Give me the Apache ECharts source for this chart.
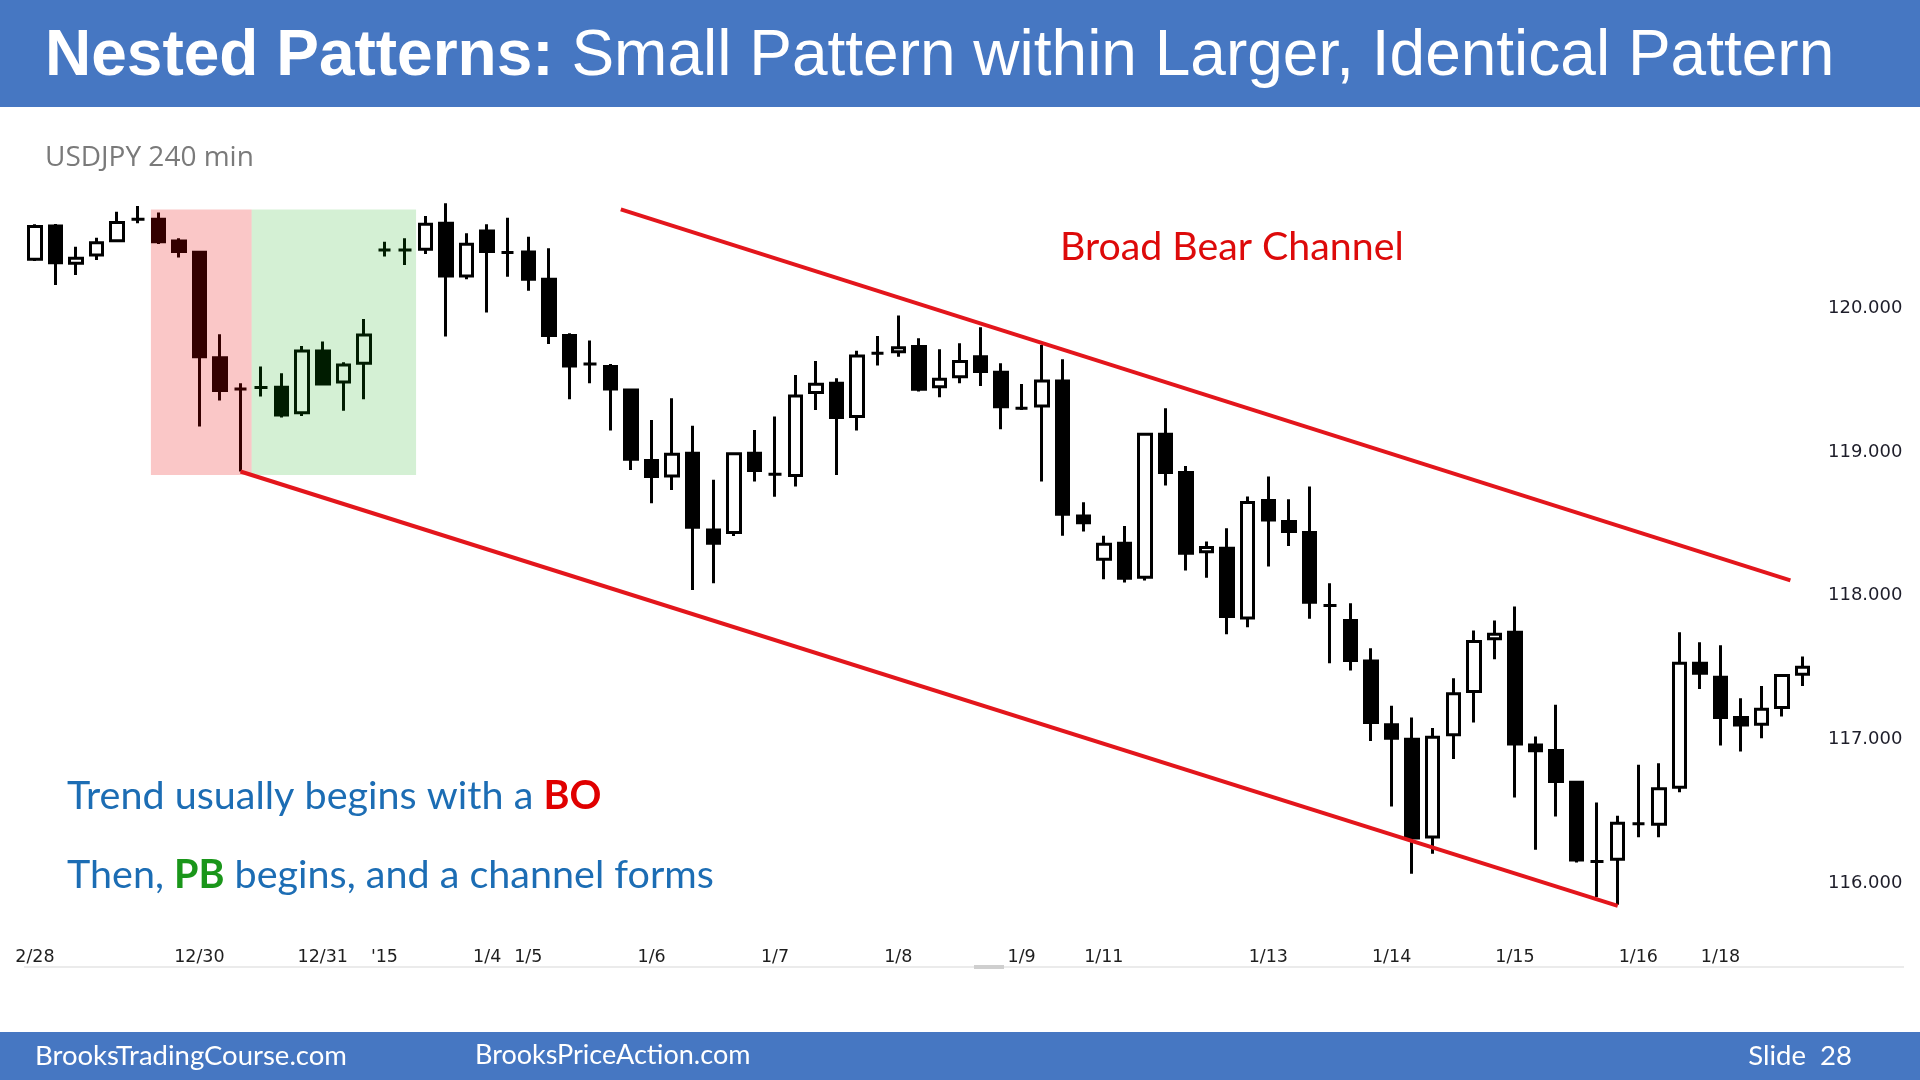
<!DOCTYPE html>
<html>
<head>
<meta charset="utf-8">
<title>Nested Patterns</title>
<script src="https://cdn.jsdelivr.net/npm/echarts@6/dist/echarts.min.js"></script>
<style>
  html, body { margin: 0; padding: 0; background: #fff; }
  #chart { width: 1920px; height: 1080px; }
</style>
</head>
<body>
<div id="chart"></div>
<script>
// USDJPY 240 min bars, 12/28 .. 1/18
const opens = [
  120.343, 120.575, 120.315, 120.373, 120.473, 120.622, 120.622, 120.471, 120.392, 119.658,
  119.440, 119.450, 119.452, 119.275, 119.705, 119.489, 119.619, 120.408, 120.408, 120.413,
  120.594, 120.227, 120.540, 120.390, 120.394, 120.204, 119.812, 119.614, 119.596, 119.433,
  118.941, 118.834, 118.992, 118.458, 118.440, 118.992, 118.846, 118.837, 119.415, 119.480,
  119.248, 119.689, 119.700, 119.735, 119.456, 119.526, 119.665, 119.556, 119.306, 119.322,
  119.496, 118.556, 118.254, 118.366, 118.129, 119.125, 118.858, 118.307, 118.331, 117.844,
  118.663, 118.517, 118.440, 117.932, 117.827, 117.546, 117.101, 117.001, 116.319, 117.031,
  117.333, 117.700, 117.746, 116.961, 116.922, 116.701, 116.149, 116.165, 116.411, 116.409,
  116.666, 117.530, 117.432, 117.151, 117.105, 117.221, 117.453
];
const highs = [
  120.587, 120.589, 120.431, 120.494, 120.675, 120.715, 120.670, 120.489, 120.392, 119.821,
  119.480, 119.596, 119.549, 119.740, 119.770, 119.626, 119.928, 120.466, 120.489, 120.645,
  120.733, 120.524, 120.587, 120.633, 120.501, 120.420, 119.828, 119.777, 119.614, 119.433,
  119.224, 119.375, 119.183, 118.807, 118.988, 119.155, 119.248, 119.538, 119.635, 119.515,
  119.707, 119.809, 119.951, 119.793, 119.716, 119.758, 119.870, 119.619, 119.475, 119.747,
  119.647, 118.651, 118.417, 118.486, 119.132, 119.306, 118.904, 118.377, 118.470, 118.691,
  118.830, 118.672, 118.761, 118.087, 117.948, 117.635, 117.233, 117.152, 117.078, 117.426,
  117.758, 117.827, 117.925, 117.020, 117.240, 116.701, 116.559, 116.467, 116.822, 116.833,
  117.746, 117.676, 117.655, 117.286, 117.372, 117.444, 117.576
];
const lows = [
  120.332, 120.164, 120.234, 120.339, 120.466, 120.594, 120.450, 120.355, 119.178, 119.359,
  118.865, 119.387, 119.241, 119.252, 119.475, 119.289, 119.368, 120.362, 120.304, 120.380,
  119.805, 120.204, 119.972, 120.222, 120.125, 119.754, 119.368, 119.480, 119.150, 118.876,
  118.644, 118.737, 118.040, 118.087, 118.416, 118.795, 118.690, 118.760, 119.294, 118.841,
  119.150, 119.603, 119.665, 119.422, 119.382, 119.480, 119.461, 119.159, 119.294, 118.795,
  118.417, 118.447, 118.115, 118.092, 118.106, 118.767, 118.175, 118.126, 117.732, 117.781,
  118.203, 118.347, 117.839, 117.530, 117.479, 116.989, 116.532, 116.063, 116.202, 116.862,
  117.117, 117.558, 116.595, 116.230, 116.462, 116.142, 115.900, 115.847, 116.318, 116.318,
  116.631, 117.351, 116.956, 116.915, 117.007, 117.158, 117.372
];
const closes = [
  120.571, 120.320, 120.350, 120.459, 120.599, 120.622, 120.466, 120.397, 119.665, 119.429,
  119.440, 119.450, 119.259, 119.705, 119.475, 119.607, 119.816, 120.408, 120.408, 120.587,
  120.227, 120.448, 120.397, 120.390, 120.204, 119.812, 119.600, 119.614, 119.440, 118.950,
  118.830, 118.985, 118.477, 118.365, 118.988, 118.872, 118.846, 119.391, 119.473, 119.241,
  119.670, 119.689, 119.728, 119.438, 119.508, 119.631, 119.561, 119.317, 119.306, 119.496,
  118.567, 118.509, 118.359, 118.122, 119.125, 118.858, 118.296, 118.335, 117.855, 118.649,
  118.528, 118.447, 117.955, 117.932, 117.549, 117.117, 117.008, 116.312, 117.015, 117.317,
  117.681, 117.732, 116.968, 116.920, 116.706, 116.160, 116.149, 116.415, 116.411, 116.655,
  117.530, 117.460, 117.151, 117.100, 117.209, 117.444, 117.502
];

// date labels under the bars
const labelIndex = [0, 8, 14, 17, 22, 24, 30, 36, 42, 48, 52, 60, 66, 72, 78, 82];
const labelText = ['2/28', '12/30', '12/31', "'15", '1/4', '1/5', '1/6', '1/7', '1/8', '1/9',
  '1/11', '1/13', '1/14', '1/15', '1/16', '1/18'];

const yTicks = [116, 117, 118, 119, 120];

// shaded boxes: breakout (red) then pullback (green), in bar index / price
const zoneFrom = [5.64, 10.54];
const zoneTo = [10.54, 18.54];
const zoneHigh = [120.69, 120.69];
const zoneLow = [118.84, 118.84];

// channel lines, [bar index, price]
const upperLine = [[28.5, 120.691], [85.4, 118.107]];
const lowerLine = [[10, 118.865], [77, 115.84]];

const categories = closes.map((c, i) => String(i));
const candles = opens.map((o, i) => [o, closes[i], lows[i], highs[i]]);
const labelMap = {};
labelIndex.forEach((idx, k) => { labelMap[idx] = labelText[k]; });
const zoneColors = ['rgba(230,0,0,0.22)', 'rgba(0,166,0,0.17)'];

const chart = echarts.init(document.getElementById('chart'));
const BLUE = '#4677c2';

chart.setOption({
  backgroundColor: '#fff',
  animation: false,
  grid: { left: 24.7, top: 165, width: 1788.3, height: 775.3 },
  xAxis: [
    {
      type: 'category',
      data: categories,
      boundaryGap: true,
      axisLine: { show: false },
      axisTick: { show: false },
      splitLine: { show: false },
      axisLabel: {
        interval: 0,
        margin: 8,
        color: '#1e1e1e',
        fontFamily: 'DejaVu Sans',
        fontSize: 17.5,
        formatter: (v, i) => labelMap[i] || ''
      }
    },
    { type: 'value', min: -0.5, max: 86.5, show: false }
  ],
  yAxis: {
    type: 'value',
    position: 'right',
    min: 115.6,
    max: 121,
    splitLine: { show: false },
    axisLine: { show: false },
    axisTick: { show: false },
    axisLabel: {
      customValues: yTicks,
      formatter: v => v.toFixed(3),
      margin: 15,
      padding: [9, 0, 0, 0],
      color: '#1e1e2a',
      fontFamily: 'DejaVu Sans',
      fontSize: 18
    }
  },
  series: [
    {
      type: 'candlestick',
      data: candles,
      barWidth: 13,
      silent: true,
      z: 2,
      itemStyle: {
        color: '#fff',
        color0: '#000',
        borderColor: '#000',
        borderColor0: '#000',
        borderColorDoji: '#000',
        borderWidth: 3
      }
    },
    {
      type: 'custom',
      xAxisIndex: 1,
      silent: true,
      z: 5,
      data: zoneFrom.map((f, i) => [f, zoneTo[i], zoneHigh[i], zoneLow[i]]),
      encode: { x: [0, 1], y: [2, 3] },
      renderItem: (params, api) => {
        const p0 = api.coord([api.value(0), api.value(2)]);
        const p1 = api.coord([api.value(1), api.value(3)]);
        return {
          type: 'rect',
          shape: { x: p0[0], y: p0[1], width: p1[0] - p0[0], height: p1[1] - p0[1] },
          style: { fill: zoneColors[params.dataIndex] }
        };
      }
    },
    {
      type: 'line',
      xAxisIndex: 1,
      data: upperLine,
      symbol: 'none',
      silent: true,
      z: 6,
      lineStyle: { color: '#e3161c', width: 4 }
    },
    {
      type: 'line',
      xAxisIndex: 1,
      data: lowerLine,
      symbol: 'none',
      silent: true,
      z: 6,
      lineStyle: { color: '#e3161c', width: 4 }
    }
  ],
  graphic: [
    { type: 'rect', shape: { x: 0, y: 0, width: 1920, height: 107 }, style: { fill: BLUE } },
    {
      type: 'text', left: 45, top: 25,
      style: {
        text: '{b|Nested Patterns:} Small Pattern within Larger, Identical Pattern',
        fill: '#fff',
        font: '64px "Liberation Sans", Arial, sans-serif',
        rich: { b: { fontWeight: 'bold', fontSize: 64, fontFamily: 'Liberation Sans', fill: '#fff' } }
      }
    },
    {
      type: 'text', left: 45, top: 144,
      style: { text: 'USDJPY 240 min', fill: '#7a7a7a', font: '28px "Open Sans", sans-serif' }
    },
    {
      type: 'text', left: 1060, top: 228,
      style: { text: 'Broad Bear Channel', fill: '#dd0a0a', font: '39.3px Lato, sans-serif' }
    },
    {
      type: 'text', left: 67, top: 776,
      style: {
        text: 'Trend usually begins with a {r|BO}',
        fill: '#1c6db4',
        font: '39.5px Lato, sans-serif',
        rich: { r: { fontWeight: 'bold', fontSize: 39.5, fontFamily: 'Lato', fill: '#e00000' } }
      }
    },
    {
      type: 'text', left: 67, top: 855,
      style: {
        text: 'Then, {g|PB} begins, and a channel forms',
        fill: '#1c6db4',
        font: '39.5px Lato, sans-serif',
        rich: { g: { fontWeight: 'bold', fontSize: 39.5, fontFamily: 'Lato', fill: '#1a961a' } }
      }
    },
    { type: 'rect', shape: { x: 24, y: 966, width: 1880, height: 2 }, style: { fill: '#ebebeb' } },
    { type: 'rect', shape: { x: 974, y: 965, width: 30, height: 4 }, style: { fill: '#cfcfcf' } },
    { type: 'rect', shape: { x: 0, y: 1032, width: 1920, height: 48 }, style: { fill: BLUE } },
    {
      type: 'text', left: 35, top: 1042,
      style: { text: 'BrooksTradingCourse.com', fill: '#fff', font: '27.5px Lato, sans-serif' }
    },
    {
      type: 'text', left: 475, top: 1042,
      style: { text: 'BrooksPriceAction.com', fill: '#fff', font: '27px Lato, sans-serif' }
    },
    {
      type: 'text', right: 68, top: 1042,
      style: { text: 'Slide  28', fill: '#fff', font: '27.5px Lato, sans-serif' }
    }
  ]
});
</script>
</body>
</html>
